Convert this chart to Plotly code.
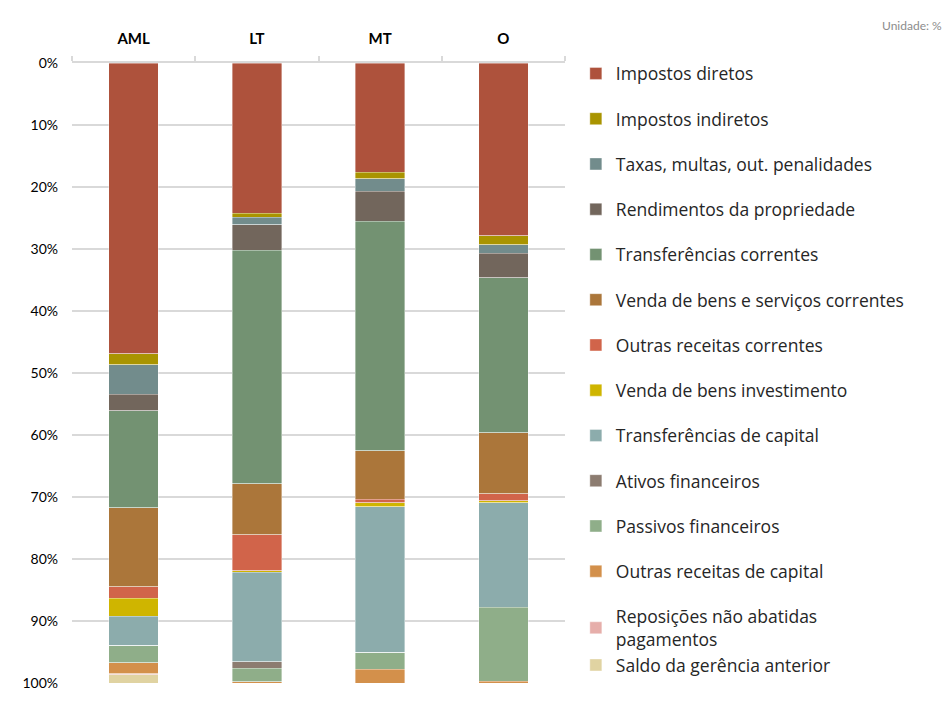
import plotly.graph_objects as go

# Regions (columns) and revenue categories
regioes = ["AML", "LT", "MT", "O"]

categorias = [
    "Impostos diretos",
    "Impostos indiretos",
    "Taxas, multas, out. penalidades",
    "Rendimentos da propriedade",
    "Transferências correntes",
    "Venda de bens e serviços correntes",
    "Outras receitas correntes",
    "Venda de bens investimento",
    "Transferências de capital",
    "Ativos financeiros",
    "Passivos financeiros",
    "Outras receitas de capital",
    "Reposições não abatidas<br>pagamentos",
    "Saldo da gerência anterior",
]

# Share of each category in total revenue (%), per region: AML, LT, MT, O
impostos_diretos = [46.9, 24.2, 17.6, 27.9]
impostos_indiretos = [1.8, 0.7, 1.1, 1.4]
taxas_multas = [4.7, 1.2, 2.0, 1.4]
rendimentos_propriedade = [2.7, 4.1, 4.8, 3.9]
transferencias_correntes = [15.6, 37.7, 37.0, 25.0]
venda_bens_servicos = [12.8, 8.2, 7.9, 9.9]
outras_receitas_correntes = [1.8, 5.8, 0.5, 1.1]
venda_bens_investimento = [2.9, 0.2, 0.7, 0.3]
transferencias_capital = [4.8, 14.5, 23.5, 16.9]
ativos_financeiros = [0.0, 1.0, 0.0, 0.0]
passivos_financeiros = [2.7, 2.2, 2.7, 11.9]
outras_receitas_capital = [1.8, 0.2, 2.2, 0.3]
reposicoes = [0.2, 0.0, 0.0, 0.0]
saldo_gerencia = [1.3, 0.0, 0.0, 0.0]

series = [
    impostos_diretos, impostos_indiretos, taxas_multas, rendimentos_propriedade,
    transferencias_correntes, venda_bens_servicos, outras_receitas_correntes,
    venda_bens_investimento, transferencias_capital, ativos_financeiros,
    passivos_financeiros, outras_receitas_capital, reposicoes, saldo_gerencia,
]

cores = [
    "#AE523C", "#A99400", "#728C8C", "#72665C", "#739272", "#AB763A",
    "#D1644A", "#CFB500", "#8CACAC", "#8C7C70", "#8FAE89", "#D3904B",
    "#E6AEAA", "#E0D3A2",
]

# The last two entries share one legend group so the two-line label
# does not push the final entry further down.
grupos = [f"g{i}" for i in range(12)] + ["g12", "g12"]

fonte = "Lato, 'Open Sans', sans-serif"
fonte_legenda = "'Open Sans', 'Noto Sans', sans-serif"

fig = go.Figure()
for nome, valores, cor, grupo in zip(categorias, series, cores, grupos):
    fig.add_trace(go.Bar(
        x=regioes,
        y=valores,
        name=nome,
        legendgroup=grupo,
        marker=dict(color=cor, line=dict(color="rgba(255,255,255,0.55)", width=0.7)),
        hovertemplate="%{x}: %{y:.1f}%<extra>" + nome + "</extra>",
    ))

fig.update_layout(
    barmode="stack",
    bargap=0.6,
    width=944,
    height=701,
    margin=dict(l=72, r=379, t=63, b=10),
    paper_bgcolor="white",
    plot_bgcolor="white",
    font=dict(family=fonte, size=14, color="#262626"),
    showlegend=True,
    legend=dict(
        x=1.022, xanchor="left",
        y=1.012, yanchor="top",
        traceorder="grouped",
        tracegroupgap=19.5,
        groupclick="toggleitem",
        font=dict(family=fonte_legenda, size=17.5, color="#262626"),
        itemwidth=30,
        maxheight=701,
        bgcolor="rgba(0,0,0,0)",
    ),
    xaxis=dict(
        side="top",
        range=[-0.5, 3.5],
        showline=True,
        linecolor="#D9D9D9",
        linewidth=1.5,
        ticks="outside",
        tickson="boundaries",
        ticklen=5,
        tickcolor="#D9D9D9",
        tickwidth=1.5,
        ticklabelstandoff=11,
        tickfont=dict(family=fonte, size=15, color="#000000", weight="bold"),
        showgrid=False,
        fixedrange=True,
    ),
    yaxis=dict(
        range=[100, 0],
        dtick=10,
        ticksuffix="%",
        showgrid=True,
        gridcolor="#D9D9D9",
        gridwidth=1.5,
        zeroline=False,
        showline=False,
        ticks="",
        ticklabelstandoff=13,
        tickfont=dict(family=fonte, size=14, color="#000000"),
        fixedrange=True,
    ),
    annotations=[
        dict(
            text="Unidade: %",
            xref="paper", yref="paper",
            x=1.0 + 379 / 493, xanchor="right",
            y=1.0, yanchor="bottom", yshift=28,
            showarrow=False,
            font=dict(family=fonte, size=12, color="#8C8C8C"),
        )
    ],
)

fig.write_html("out.html")
